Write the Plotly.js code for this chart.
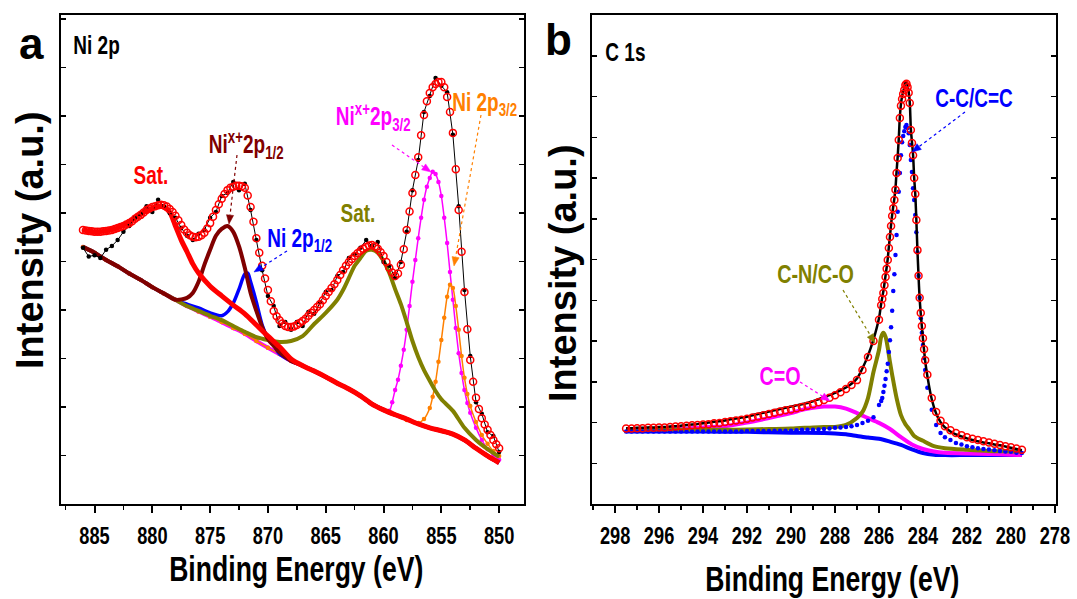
<!DOCTYPE html>
<html>
<head>
<meta charset="utf-8">
<script src="https://cdn.plot.ly/plotly-3.0.1.min.js"></script>
<style>html,body{margin:0;padding:0;background:#fff;}#chart{width:1077px;height:599px;}</style>
</head>
<body>
<div id="chart"></div>
<script>
// ---------------- Panel a : Ni 2p ----------------
const niE = [886,885.5,885,884.5,884,883.5,883,882.5,882,881.5,881,880.5,880,879.5,879,878.5,878,877.5,877,876.5,876,875.5,875,874.5,874,873.5,873,872.5,872,871.5,871,870.5,870,869.5,869,868.5,868,867.5,867,866.5,866,865.5,865,864.5,864,863.5,863,862.5,862,861.5,861,860.5,860,859.5,859,858.5,858,857.5,857,856.5,856,855.5,855,854.5,854,853.5,853,852.5,852,851.5,851,850.5,850];
const niRaw = [5.28,5.10,5.13,5.07,5.24,5.32,5.44,5.61,5.73,5.90,5.98,6.14,6.02,6.27,6.14,6.00,5.90,5.69,5.53,5.44,5.57,5.65,5.90,6.02,6.35,6.41,6.64,6.47,6.60,6.06,5.44,4.82,4.29,4.08,3.67,3.75,3.59,3.75,3.67,3.96,3.92,4.16,4.37,4.41,4.70,4.78,5.07,5.15,5.28,5.44,5.32,5.40,4.99,4.91,4.66,4.99,5.61,6.47,7.09,8.08,8.41,8.78,8.62,8.49,7.61,6.14,4.41,3.05,2.10,1.86,1.48,1.40,1.07];

const niEnvE = [886,885.75,885.5,885.25,885,884.75,884.5,884.25,884,883.75,883.5,883.25,883,882.75,882.5,882.25,882,881.75,881.5,881.25,881,880.75,880.5,880.25,880,879.75,879.5,879.25,879,878.75,878.5,878.25,878,877.75,877.5,877.25,877,876.75,876.5,876.25,876,875.75,875.5,875.25,875,874.75,874.5,874.25,874,873.75,873.5,873.25,873,872.75,872.5,872.25,872,871.75,871.5,871.25,871,870.75,870.5,870.25,870,869.75,869.5,869.25,869,868.75,868.5,868.25,868,867.75,867.5,867.25,867,866.75,866.5,866.25,866,865.75,865.5,865.25,865,864.75,864.5,864.25,864,863.75,863.5,863.25,863,862.75,862.5,862.25,862,861.75,861.5,861.25,861,860.75,860.5,860.25,860,859.75,859.5,859.25,859,858.75,858.5,858.25,858,857.75,857.5,857.25,857,856.75,856.5,856.25,856,855.75,855.5,855.25,855,854.75,854.5,854.25,854,853.75,853.5,853.25,853,852.75,852.5,852.25,852,851.75,851.5,851.25,851,850.75,850.5,850.25,850];
const niEnv = [5.65,5.64,5.63,5.62,5.61,5.61,5.61,5.62,5.63,5.64,5.65,5.67,5.69,5.71,5.73,5.76,5.79,5.83,5.88,5.92,5.96,6.01,6.06,6.09,6.12,6.14,6.16,6.17,6.16,6.13,6.08,6.02,5.94,5.85,5.75,5.66,5.59,5.54,5.51,5.50,5.51,5.54,5.59,5.68,5.79,5.92,6.06,6.18,6.29,6.39,6.47,6.52,6.54,6.56,6.56,6.55,6.52,6.36,6.12,5.82,5.48,5.18,4.91,4.65,4.41,4.18,3.98,3.87,3.79,3.72,3.67,3.65,3.65,3.66,3.69,3.73,3.77,3.82,3.88,3.94,4.00,4.06,4.12,4.20,4.29,4.37,4.45,4.53,4.62,4.72,4.82,4.91,4.99,5.05,5.11,5.17,5.22,5.26,5.30,5.33,5.34,5.31,5.26,5.19,5.11,4.99,4.87,4.77,4.70,4.75,4.93,5.25,5.65,6.03,6.41,6.78,7.15,7.60,8.02,8.30,8.47,8.59,8.66,8.70,8.70,8.59,8.39,8.08,7.65,6.90,6.06,5.20,4.37,3.60,2.97,2.52,2.19,1.96,1.77,1.64,1.53,1.42,1.32,1.23,1.15];

const niBgE = [886,885,884,883,882,881,880,879,878,877,876,875,874,873,872,871,870,869,868,867,866,865,864,863,862,861,860,859,858,857,856,855,854,853,852,851,850];
const niBg  = [5.30,5.18,5.03,4.90,4.75,4.62,4.47,4.34,4.21,4.08,3.97,3.86,3.75,3.63,3.51,3.36,3.22,3.09,2.95,2.85,2.74,2.62,2.49,2.37,2.23,2.06,1.94,1.84,1.75,1.65,1.57,1.51,1.44,1.32,1.15,0.99,0.85];

// Sat. (red)
const satRedE = [886,885,884,883,882,881,880,879.5,879,878.5,878,877.5,877,876.5,876,875,874,873,872,871,870,869,868];
const satRedI = [5.65,5.61,5.63,5.69,5.81,5.98,6.10,6.14,6.12,6.02,5.73,5.44,5.20,4.95,4.76,4.49,4.29,4.10,3.92,3.69,3.46,3.24,2.99];
// Ni x+ 2p1/2 (maroon)
const nix12E = [877,876.5,876,875.5,875,874.5,874,873.5,873,872.5,872,871.5,871,870.5,870,869.5,869,868.5];
const nix12I = [4.25,4.35,4.58,4.93,5.24,5.53,5.67,5.73,5.61,5.31,4.87,4.35,3.98,3.65,3.40,3.26,3.13,3.03];
// Ni 2p1/2 (blue)
const ni12E = [877,876,875,874,873.5,873,872.5,872,871.75,871.5,871,870.5,870,869.5];
const ni12I = [4.12,4.04,3.94,3.88,3.96,4.14,4.43,4.74,4.76,4.58,4.16,3.69,3.42,3.28];
// Sat. (olive)
const satOlE = [876,875,874,873,872,871,870,869,868,867,866,865,864,863.5,863,862.5,862,861.5,861,860.5,860,859.5,859,858.5,858,857.5,857,856.5,856,855.5,855,854,853,852,851,850];
const satOlI = [3.98,3.88,3.79,3.67,3.55,3.44,3.38,3.34,3.36,3.46,3.71,3.94,4.21,4.41,4.66,4.91,5.07,5.22,5.24,5.18,5.01,4.76,4.43,4.12,3.75,3.36,3.03,2.76,2.54,2.33,2.16,1.92,1.57,1.32,1.13,0.97];
// Ni x+ 2p3/2 (magenta)
const nix32E = [859.5,859.25,859,858.75,858.5,858.25,858,857.75,857.5,857.25,857,856.75,856.5,856.25,856,855.75,855.5,855.25,855,854.75,854.5,854.25,854,853.75,853.5,853.25,853,852.75,852.5,852,851.5,851,850.5,850];
const nix32I = [1.92,2.10,2.35,2.56,2.85,3.18,3.59,4.08,4.58,5.03,5.48,5.90,6.27,6.54,6.72,6.85,6.80,6.64,6.35,5.90,5.38,4.78,4.21,3.63,3.11,2.70,2.35,2.08,1.88,1.57,1.32,1.13,1.01,0.91];
// Ni 2p3/2 (orange)
const ni32E = [858,857,856.5,856,855.75,855.5,855.25,855,854.75,854.5,854.25,854,853.75,853.5,853.25,853,852.75,852.5,852,851.5,851,850.5,850];
const ni32I = [1.73,1.67,1.75,1.98,2.21,2.52,2.93,3.38,3.84,4.27,4.52,4.45,4.08,3.59,3.05,2.60,2.27,2.02,1.69,1.42,1.24,1.09,0.99];
const niTicks = [885,880,875,870,865,860,855,850];

// ---------------- Panel b : C 1s ----------------
const cE = [297.5,297.25,297,296.75,296.5,296.25,296,295.75,295.5,295.25,295,294.75,294.5,294.25,294,293.75,293.5,293.25,293,292.75,292.5,292.25,292,291.75,291.5,291.25,291,290.75,290.5,290.25,290,289.75,289.5,289.25,289,288.75,288.5,288.25,288,287.75,287.5,287.25,287,286.75,286.5,286.25,286,
  285.9,285.85,285.8,285.75,285.7,285.65,285.6,285.55,285.5,285.45,285.4,285.35,285.3,285.25,285.2,285.15,285.1,285.05,285,284.95,284.9,284.85,284.8,284.75,284.7,284.65,284.6,284.55,284.5,284.45,284.4,284.35,284.3,284.25,284.2,284.15,284.1,284.05,284,283.95,283.9,
  283.8,283.6,283.4,283.2,283,282.75,282.5,282.25,282,281.75,281.5,281.25,281,280.75,280.5,280.25,280,279.75,279.5];
const cEnv = [1.85,1.85,1.86,1.86,1.87,1.87,1.88,1.88,1.89,1.90,1.91,1.92,1.93,1.94,1.95,1.96,1.98,1.99,2.01,2.03,2.05,2.07,2.09,2.12,2.15,2.18,2.21,2.24,2.27,2.30,2.32,2.35,2.38,2.41,2.45,2.50,2.55,2.61,2.67,2.74,2.82,2.92,3.04,3.29,3.61,4.00,4.52,
  4.88,5.03,5.18,5.37,5.57,5.77,5.99,6.28,6.55,6.82,7.07,7.26,7.46,7.71,8.12,8.49,8.93,9.47,9.77,9.94,10.06,10.16,10.28,10.31,10.23,10.09,9.84,9.18,8.86,8.56,8.00,7.61,6.97,6.23,5.60,5.06,4.69,4.37,4.07,3.80,3.53,
  3.17,2.60,2.26,2.04,1.91,1.81,1.74,1.69,1.64,1.60,1.57,1.54,1.51,1.48,1.45,1.42,1.39,1.36,1.33];
const cRaw = [1.86,1.86,1.87,1.87,1.88,1.88,1.89,1.89,1.90,1.91,1.92,1.94,1.95,1.96,1.98,2.00,2.02,2.03,2.05,2.08,2.10,2.12,2.14,2.18,2.21,2.24,2.27,2.30,2.33,2.36,2.39,2.42,2.45,2.48,2.52,2.57,2.62,2.67,2.73,2.79,2.86,2.95,3.08,3.33,3.64,4.04,4.56,
  4.92,5.07,5.22,5.41,5.61,5.81,6.03,6.31,6.58,6.85,7.10,7.30,7.50,7.75,8.16,8.52,8.96,9.51,9.82,10.00,10.12,10.22,10.34,10.36,10.27,10.12,9.86,9.20,8.88,8.57,8.01,7.61,6.96,6.21,5.58,5.04,4.67,4.35,4.05,3.78,3.51,
  3.14,2.57,2.22,2.01,1.88,1.78,1.71,1.66,1.61,1.57,1.54,1.51,1.49,1.46,1.44,1.41,1.38,1.35,1.32];
const cCC = [1.78,1.78,1.78,1.78,1.78,1.78,1.78,1.78,1.78,1.78,1.78,1.78,1.78,1.78,1.78,1.78,1.78,1.78,1.78,1.78,1.78,1.78,1.79,1.79,1.79,1.79,1.79,1.80,1.80,1.80,1.80,1.81,1.82,1.82,1.82,1.83,1.84,1.85,1.87,1.88,1.89,1.91,1.94,1.99,2.04,2.13,2.43,
  2.53,2.60,2.75,2.90,3.07,3.26,3.44,3.73,4.02,4.34,4.74,5.23,5.64,6.11,6.60,7.17,7.66,8.12,8.56,8.88,9.03,9.15,9.25,9.30,9.23,9.10,8.81,8.44,8.15,7.75,7.46,7.09,6.67,6.18,5.60,5.06,4.56,4.20,3.90,3.58,3.29,
  2.85,2.31,1.94,1.74,1.64,1.57,1.50,1.46,1.42,1.39,1.37,1.35,1.34,1.32,1.30,1.29,1.28,1.26,1.25];
const cnE = [297.5,297,296,295,294,293,292,291,290,289,288.5,288,287.5,287,286.75,286.5,286.25,286,285.9,285.8,285.7,285.6,285.5,285.4,285.2,285,284.8,284.6,284.4,284,283.5,283,282,281,280,279.5];
const cnI = [1.82,1.82,1.82,1.82,1.82,1.82,1.83,1.84,1.85,1.88,1.89,1.89,1.94,2.11,2.26,2.60,3.24,3.78,4.10,4.20,4.10,3.83,3.48,3.17,2.60,2.18,1.96,1.82,1.67,1.55,1.42,1.37,1.33,1.30,1.29,1.28];
const coE = [297.5,296,295,294,293,292,291,290,289.5,289,288.5,288,287.5,287,286.5,286,285.5,285,284.5,284,283.5,283,282,281,280,279.5];
const coI = [1.82,1.83,1.84,1.88,1.91,2.00,2.11,2.23,2.31,2.36,2.39,2.39,2.34,2.23,2.11,1.99,1.84,1.64,1.46,1.35,1.29,1.26,1.24,1.23,1.21,1.20];
const cBgE = [297.5,296,294,292,290,288.5,288,287.5,287,286.5,286,285.5,285,284.5,284,283.5,283,282,281,280,279.5];
const cBgI = [1.78,1.78,1.78,1.77,1.75,1.74,1.73,1.71,1.67,1.63,1.60,1.53,1.45,1.34,1.25,1.21,1.20,1.20,1.20,1.20,1.20];
const cTicks = [298,296,294,292,290,288,286,284,282,280,278];

// ------------ helpers ------------
function withBg(bgE, bgI, pE, pI) {
  const hi = Math.max(...pE), lo = Math.min(...pE);
  const xs = [], ys = [];
  bgE.forEach((e, i) => { if (e > hi) { xs.push(e); ys.push(bgI[i]); } });
  pE.forEach((e, i) => { xs.push(e); ys.push(pI[i]); });
  bgE.forEach((e, i) => { if (e < lo) { xs.push(e); ys.push(bgI[i]); } });
  return { x: xs, y: ys };
}
const W = 1077, H = 599;
const FONT = "'Liberation Sans', Arial, sans-serif";
const SQUEEZE = 0.76;
const RED = '#FF0000', MAROON = '#800000', BLUE = '#0000FF', OLIVE = '#808000', MAG = '#FF00FF', ORANGE = '#FF8000';

function lineTrace(d, color, width, xa, ya, extra) {
  return Object.assign({ x: d.x, y: d.y, xaxis: xa, yaxis: ya, mode: 'lines',
    line: { color: color, width: width, shape: 'spline', smoothing: 0.8 }, hoverinfo: 'skip' }, extra || {});
}

const satRed = withBg(niBgE, niBg, satRedE, satRedI);
const nix12 = withBg(niBgE, niBg, nix12E, nix12I);
const ni12 = withBg(niBgE, niBg, ni12E, ni12I);
const satOl = withBg(niBgE, niBg, satOlE, satOlI);
const nix32 = withBg(niBgE, niBg, nix32E, nix32I);
const ni32 = withBg(niBgE, niBg, ni32E, ni32I);

const traces = [
  lineTrace({ x: niBgE, y: niBg }, MAG, 4, 'x', 'y'),
  lineTrace(nix32, MAG, 1.5, 'x', 'y', { mode: 'lines+markers', marker: { color: MAG, size: 4.5 } }),
  lineTrace(ni32, ORANGE, 1.5, 'x', 'y', { mode: 'lines+markers', marker: { color: ORANGE, size: 4.5 } }),
  lineTrace(ni12, BLUE, 3.5, 'x', 'y'),
  lineTrace(satOl, OLIVE, 4, 'x', 'y'),
  lineTrace(nix12, MAROON, 4, 'x', 'y'),
  lineTrace(satRed, RED, 5, 'x', 'y'),
  { x: niE, y: niRaw, xaxis: 'x', yaxis: 'y', mode: 'lines+markers', line: { color: '#000', width: 1 },
    marker: { color: '#000', size: 4.5 }, hoverinfo: 'skip' },
  { x: niEnvE, y: niEnv, xaxis: 'x', yaxis: 'y', mode: 'markers',
    marker: { symbol: 'circle-open', color: RED, size: 7, line: { width: 1.5, color: RED } }, hoverinfo: 'skip' },

  lineTrace({ x: cBgE, y: cBgI }, BLUE, 4, 'x2', 'y2'),
  lineTrace({ x: coE, y: coI }, MAG, 4, 'x2', 'y2'),
  lineTrace({ x: cnE, y: cnI }, OLIVE, 4, 'x2', 'y2'),
  { x: cE, y: cCC, xaxis: 'x2', yaxis: 'y2', mode: 'markers', marker: { color: BLUE, size: 4.5 }, hoverinfo: 'skip' },
  { x: cE, y: cRaw, xaxis: 'x2', yaxis: 'y2', mode: 'lines', line: { color: '#000', width: 2.5, shape: 'spline' }, hoverinfo: 'skip' },
  { x: cE, y: cEnv, xaxis: 'x2', yaxis: 'y2', mode: 'markers',
    marker: { symbol: 'circle-open', color: RED, size: 7, line: { width: 1.5, color: RED } }, hoverinfo: 'skip' }
];

function xAxis(domain, range, ticks, minorStep, anchor) {
  return { domain: domain, range: range, anchor: anchor, tickmode: 'array', tickvals: ticks, ticktext: ticks.map(String),
    showline: true, linecolor: '#000', linewidth: 2, mirror: true, ticks: 'outside', ticklen: 7, tickwidth: 2, tickcolor: '#000',
    minor: { ticks: 'outside', dtick: minorStep, ticklen: 4, tickwidth: 1.5, tickcolor: '#000' },
    tickfont: { family: FONT, size: 24, color: '#000', weight: 'bold' }, ticklabelstandoff: 2,
    showgrid: false, zeroline: false, fixedrange: true };
}
function yAxis(range, anchor) {
  return { domain: [95 / H, 584 / H], range: range, anchor: anchor, dtick: 1, tick0: 0,
    showline: true, linecolor: '#000', linewidth: 2, mirror: 'allticks', ticks: 'inside', ticklen: 5, tickwidth: 1.5,
    tickcolor: '#000', showticklabels: false, showgrid: false, zeroline: false, fixedrange: true };
}

function txt(text, x, y, size, color, extra) {
  return Object.assign({ text: text, xref: 'paper', yref: 'paper', x: x / W, y: 1 - y / H, xanchor: 'center', yanchor: 'middle',
    showarrow: false, font: { family: FONT, size: size, color: color } }, extra || {});
}
// dotted leader plus filled arrowhead (pixel positions converted to paper fractions)
function leader(tx, ty, hx, hy, color) {
  const dx = hx - tx, dy = hy - ty, len = Math.hypot(dx, dy);
  const ux = dx / len, uy = dy / len, L = 9, w = 3.6;
  const bx = hx - ux * L, by = hy - uy * L;
  const p = (x, y) => (x / W).toFixed(5) + ',' + (1 - y / H).toFixed(5);
  return [
    { type: 'line', xref: 'paper', yref: 'paper', x0: tx / W, y0: 1 - ty / H, x1: bx / W, y1: 1 - by / H,
      line: { color: color, width: 1.2, dash: 'dot' } },
    { type: 'path', xref: 'paper', yref: 'paper', fillcolor: color, line: { color: color, width: 0.5 },
      path: 'M' + p(hx, hy) + 'L' + p(bx - uy * w, by + ux * w) + 'L' + p(bx + uy * w, by - ux * w) + 'Z' }
  ];
}

const annotations = [
  txt('<b>a</b>', 31, 43, 44, '#000', { name: 'wide' }),
  txt('<b>b</b>', 558, 40, 44, '#000', { name: 'wide' }),
  txt('<b>Ni 2p</b>', 96, 45, 25, '#000'),
  txt('<b>C 1s</b>', 625, 52, 25, '#000'),
  txt('<b>Intensity (a.u.)</b>', 30, 240, 38, '#000', { textangle: -90, name: 'wide' }),
  txt('<b>Intensity (a.u.)</b>', 563, 273, 38, '#000', { textangle: -90, name: 'wide' }),
  txt('<b>Binding Energy (eV)</b>', 296, 568, 35, '#000'),
  txt('<b>Binding Energy (eV)</b>', 832, 578, 35, '#000'),
  txt('<b>Sat.</b>', 151, 175, 25, RED),
  txt('<b>Ni<sup>x+</sup>2p<sub>1/2</sub></b>', 246, 145, 25, MAROON),
  txt('<b>Ni 2p<sub>1/2</sub></b>', 300, 240, 25, BLUE),
  txt('<b>Sat.</b>', 358, 213, 25, OLIVE),
  txt('<b>Ni<sup>x+</sup>2p<sub>3/2</sub></b>', 373, 117, 25, MAG),
  txt('<b>Ni 2p<sub>3/2</sub></b>', 485, 104, 25, ORANGE),
  txt('<b>C-C/C=C</b>', 974, 98, 25, BLUE),
  txt('<b>C-N/C-O</b>', 815, 274, 26, OLIVE),
  txt('<b>C=O</b>', 780, 376, 26, MAG)
];
const shapes = [].concat(
  leader(237, 155, 229, 224, MAROON),
  leader(287, 251, 254, 272, BLUE),
  leader(392, 145, 431, 172, MAG),
  leader(481, 115, 454, 266, ORANGE),
  leader(965, 112, 912, 152, BLUE),
  leader(843, 290, 875, 343, OLIVE),
  leader(800, 382, 830, 401, MAG)
);

const layout = {
  width: W, height: H, margin: { l: 0, r: 0, t: 0, b: 0 }, showlegend: false,
  paper_bgcolor: '#fff', plot_bgcolor: '#fff',
  xaxis: xAxis([61 / W, 524 / W], [887.9, 847.85], niTicks, 2.5, 'y'),
  yaxis: yAxis([0, 10.08], 'x'),
  xaxis2: xAxis([592 / W, 1056 / W], [299.05, 277.95], cTicks, 1, 'y2'),
  yaxis2: yAxis([0, 12], 'x2'),
  annotations: annotations, shapes: shapes
};

// The reference lettering is a condensed bold face; squeeze horizontal text to match.
function condense(gd) {
  try {
    gd.querySelectorAll('.xtick text, .x2tick text').forEach(t => {
      const tr = t.getAttribute('transform') || '';
      t.setAttribute('transform', tr + ' scale(' + SQUEEZE + ',1)');
    });
    gd.querySelectorAll('g.annotation').forEach(g => {
      const idx = +g.getAttribute('data-index');
      const a = layout.annotations[idx];
      if (!a || a.name === 'wide') return;
      const t = g.querySelector('text.annotation-text');
      if (!t) return;
      const x = parseFloat(t.getAttribute('x')) || 0;
      t.setAttribute('transform', 'translate(' + x + ',0) scale(' + SQUEEZE + ',1) translate(' + (-x) + ',0)');
    });
  } catch (e) { /* keep default rendering */ }
}

Plotly.newPlot('chart', traces, layout, { staticPlot: true, displayModeBar: false }).then(condense);
</script>
</body>
</html>
